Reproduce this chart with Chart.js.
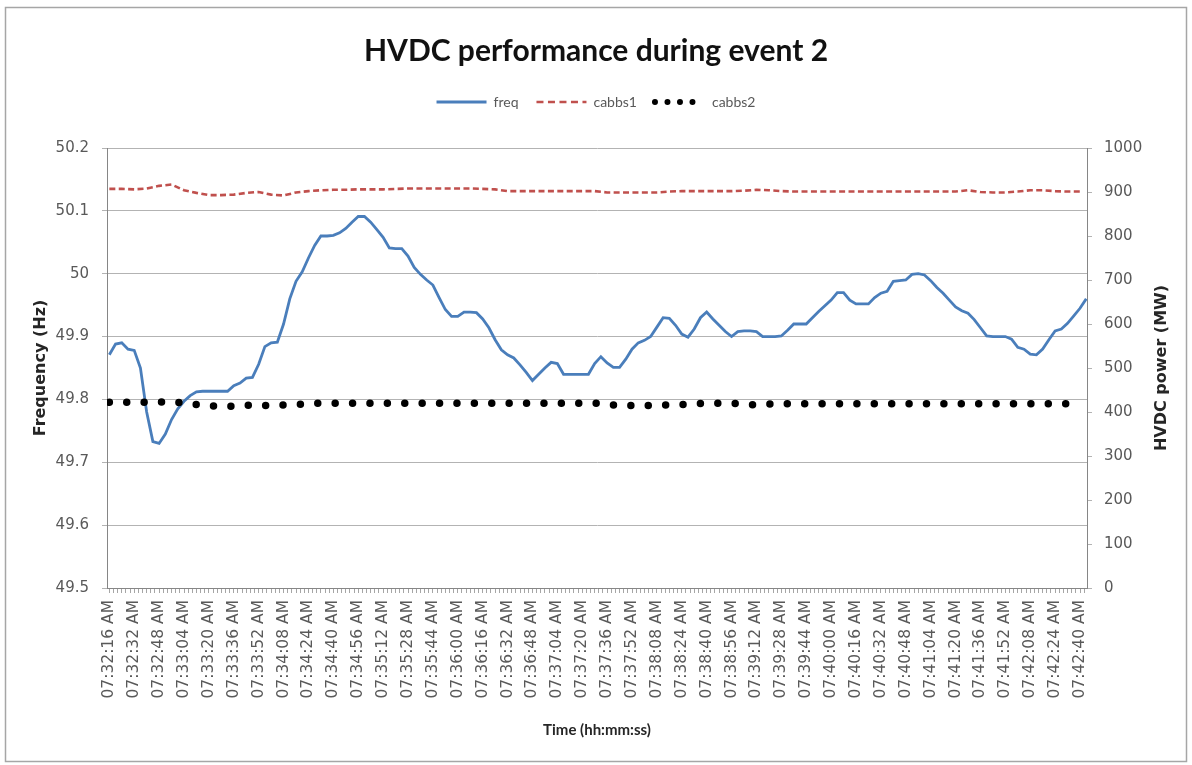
<!DOCTYPE html>
<html>
<head>
<meta charset="utf-8">
<title>HVDC performance during event 2</title>
<script src="https://cdn.jsdelivr.net/npm/chart.js@4.4.1/dist/chart.umd.min.js"></script>
<style>
  html, body { margin: 0; padding: 0; background: #fff; }
  #wrap { width: 1192px; height: 765px; }
</style>
</head>
<body>
<div id="wrap"><canvas id="hvdcChart" width="1192" height="765"></canvas></div>
<script>
// labelled ticks on the time axis, one every 16 s
const timeLabels = [
    '07:32:16 AM', '07:32:32 AM', '07:32:48 AM', '07:33:04 AM', '07:33:20 AM',
    '07:33:36 AM', '07:33:52 AM', '07:34:08 AM', '07:34:24 AM', '07:34:40 AM',
    '07:34:56 AM', '07:35:12 AM', '07:35:28 AM', '07:35:44 AM', '07:36:00 AM',
    '07:36:16 AM', '07:36:32 AM', '07:36:48 AM', '07:37:04 AM', '07:37:20 AM',
    '07:37:36 AM', '07:37:52 AM', '07:38:08 AM', '07:38:24 AM', '07:38:40 AM',
    '07:38:56 AM', '07:39:12 AM', '07:39:28 AM', '07:39:44 AM', '07:40:00 AM',
    '07:40:16 AM', '07:40:32 AM', '07:40:48 AM', '07:41:04 AM', '07:41:20 AM',
    '07:41:36 AM', '07:41:52 AM', '07:42:08 AM', '07:42:24 AM', '07:42:40 AM'
];
const labelStep = 16;   // seconds between labelled ticks
const minorPerLabel = 6; // small tick marks per label interval
const freqStep = 4;     // seconds between freq samples
const powerStep = 8;    // seconds between HVDC power samples

// frequency (Hz), every 4 s from 07:32:16
const freq = [
    49.871, 49.888, 49.890, 49.880, 49.878, 49.850, 49.780, 49.733, 49.730, 49.745,
    49.768, 49.785, 49.797, 49.806, 49.812, 49.813, 49.813, 49.813, 49.813, 49.813,
    49.822, 49.826, 49.834, 49.835, 49.856, 49.884, 49.890, 49.891, 49.920, 49.960,
    49.988, 50.003, 50.025, 50.045, 50.060, 50.060, 50.061, 50.065, 50.072, 50.082,
    50.091, 50.091, 50.082, 50.070, 50.058, 50.041, 50.040, 50.040, 50.028, 50.010,
    49.999, 49.990, 49.982, 49.962, 49.943, 49.932, 49.932, 49.939, 49.939, 49.938,
    49.928, 49.914, 49.895, 49.879, 49.871, 49.866, 49.855, 49.843, 49.830, 49.840,
    49.850, 49.859, 49.857, 49.840, 49.840, 49.840, 49.840, 49.840, 49.857, 49.868,
    49.858, 49.851, 49.851, 49.864, 49.880, 49.890, 49.894, 49.900, 49.915, 49.930,
    49.929, 49.918, 49.904, 49.899, 49.912, 49.930, 49.939, 49.928, 49.918, 49.908,
    49.900, 49.908, 49.909, 49.909, 49.908, 49.900, 49.900, 49.900, 49.901, 49.910,
    49.920, 49.920, 49.920, 49.930, 49.940, 49.949, 49.958, 49.970, 49.970, 49.958,
    49.952, 49.952, 49.952, 49.962, 49.969, 49.972, 49.988, 49.989, 49.990, 49.999,
    50.000, 49.998, 49.989, 49.978, 49.969, 49.958, 49.947, 49.941, 49.937, 49.927,
    49.914, 49.901, 49.900, 49.900, 49.900, 49.896, 49.883, 49.880, 49.872, 49.871,
    49.880, 49.895, 49.909, 49.912, 49.921, 49.933, 49.945, 49.960
];

// HVDC power (MW), every 8 s from 07:32:16
const cabbs1 = [
    907, 907, 906, 908, 914, 917, 904, 898, 893, 893,
    894, 898, 900, 894, 892, 899, 902, 904, 905, 905,
    906, 906, 906, 907, 908, 908, 908, 908, 908, 908,
    907, 906, 902, 902, 902, 902, 902, 902, 902, 902,
    899, 899, 899, 899, 899, 901, 902, 902, 902, 902,
    902, 903, 905, 904, 902, 901, 901, 901, 901, 901,
    901, 901, 901, 901, 901, 901, 901, 901, 901, 904,
    900, 899, 899, 901, 904, 904, 902, 901, 901
];
const cabbs2 = [
    422, 422, 422, 422, 423, 422, 421, 417, 414, 413,
    413, 415, 416, 414, 416, 417, 419, 420, 420, 420,
    420, 420, 420, 420, 420, 420, 420, 420, 420, 420,
    420, 420, 420, 420, 420, 420, 420, 420, 420, 420,
    417, 415, 415, 415, 415, 416, 417, 419, 420, 420,
    420, 417, 416, 418, 419, 419, 419, 419, 419, 419,
    419, 419, 419, 419, 419, 419, 419, 419, 419, 419,
    419, 419, 419, 419, 419, 419, 419, 419, 419
];

const theme = {
    freq: '#4A7EBB',
    cabbs1: '#C0504D',
    cabbs2: '#000000',
    text: '#595959',
    title: '#262626',
    grid: '#b3b3b3',
    axis: '#868686',
};

Chart.defaults.font.family = "'DejaVu Sans', sans-serif";

const toPoints = (values, step) => values.map((v, i) => ({ x: i * step, y: v }));

// white page with the grey frame round the chart
const chartFrame = {
    id: 'chartFrame',
    beforeDraw(chart) {
        const { ctx, width, height } = chart;
        ctx.save();
        ctx.fillStyle = '#ffffff';
        ctx.fillRect(0, 0, width, height);
        ctx.strokeStyle = '#a6a6a6';
        ctx.lineWidth = 1.5;
        ctx.strokeRect(5.5, 7.5, width - 11, height - 11);
        ctx.restore();
    }
};

// empty box between legend and plot
const gapBelowLegend = {
    id: 'gapBelowLegend',
    beforeInit(chart) {
        Chart.layouts.addBox(chart, {
            position: 'top',
            weight: 0,
            fullSize: true,
            options: {},
            top: 0, left: 0, right: 0, bottom: 0, width: 0, height: 0,
            isHorizontal() { return true; },
            update(maxWidth) { this.width = maxWidth; this.height = 29; },
            draw() {}
        });
    }
};

// secondary axis title, reading bottom to top like the left one
const rightAxisTitle = {
    id: 'rightAxisTitle',
    afterDraw(chart) {
        const { ctx, chartArea } = chart;
        const axis = chart.scales.y1;
        ctx.save();
        ctx.translate(axis.right - 22, (chartArea.top + chartArea.bottom) / 2);
        ctx.rotate(-Math.PI / 2);
        ctx.fillStyle = theme.title;
        ctx.font = "bold 16px 'DejaVu Sans'";
        ctx.textAlign = 'center';
        ctx.textBaseline = 'middle';
        ctx.fillText('HVDC power (MW)', 0, 0);
        ctx.restore();
    }
};

const ctx = document.getElementById('hvdcChart').getContext('2d');
new Chart(ctx, {
    type: 'line',
    data: {
        datasets: [{
            label: 'freq',
            data: toPoints(freq, freqStep),
            yAxisID: 'y',
            borderColor: theme.freq,
            backgroundColor: theme.freq,
            borderWidth: 2.8,
            pointRadius: 0,
            order: 3,
        }, {
            label: 'cabbs1',
            data: toPoints(cabbs1, powerStep),
            yAxisID: 'y1',
            borderColor: theme.cabbs1,
            backgroundColor: theme.cabbs1,
            borderWidth: 2.6,
            borderDash: [6, 3.4],
            pointRadius: 0,
            order: 2,
        }, {
            label: 'cabbs2',
            data: toPoints(cabbs2, powerStep),
            yAxisID: 'y1',
            borderColor: theme.cabbs2,
            backgroundColor: theme.cabbs2,
            borderWidth: 7.5,
            borderDash: [0, 17.4],
            borderCapStyle: 'round',
            pointRadius: 0,
            order: 1,
        }]
    },
    options: {
        responsive: false,
        animation: false,
        layout: { padding: { top: 0, left: 8, right: 8, bottom: 10 } },
        plugins: {
            title: {
                display: true,
                text: 'HVDC performance during event 2',
                color: '#111111',
                font: { family: 'Lato', size: 30, weight: 'bold' },
                padding: { top: 33, bottom: 8 }
            },
            legend: {
                position: 'top',
                labels: {
                    usePointStyle: true,
                    pointStyle: 'line',
                    pointStyleWidth: 50,
                    padding: 18,
                    color: theme.text,
                    font: { family: 'Lato', size: 14 },
                    sort: (a, b) => a.datasetIndex - b.datasetIndex,
                    generateLabels(chart) {
                        const items = Chart.defaults.plugins.legend.labels.generateLabels(chart);
                        items.forEach(item => {
                            if (item.datasetIndex === 0) { item.lineWidth = 3; }
                            if (item.datasetIndex === 1) { item.lineDash = [7, 4.5]; }
                            if (item.datasetIndex === 2) {
                                item.lineDash = [0, 12.5];
                                item.lineWidth = 6;
                                item.lineCap = 'round';
                            }
                        });
                        return items;
                    }
                }
            },
            tooltip: { enabled: false }
        },
        scales: {
            x: {
                type: 'linear',
                min: -1.5,
                max: 628.5,
                afterBuildTicks(axis) {
                    const step = labelStep / minorPerLabel;
                    const ticks = [];
                    for (let k = 0; k * step <= axis.max; k++) {
                        ticks.push({ value: k * step });
                    }
                    axis.ticks = ticks;
                },
                afterFit(axis) { axis.height = 167; },
                ticks: {
                    autoSkip: false,
                    minRotation: 90,
                    maxRotation: 90,
                    padding: 7,
                    color: theme.text,
                    font: { size: 15.5 },
                    callback: (value, index) => index % minorPerLabel === 0 ? timeLabels[index / minorPerLabel] : ''
                },
                grid: { drawOnChartArea: false, tickLength: 5, color: '#a6a6a6' },
                border: { color: theme.axis },
                title: {
                    display: true,
                    text: 'Time (hh:mm:ss)',
                    color: theme.title,
                    font: { family: 'Lato', size: 15, weight: 'bold' },
                    padding: { top: 0, bottom: 16 }
                }
            },
            y: {
                position: 'left',
                min: 49.5,
                max: 50.2,
                afterFit(axis) { axis.width = 99; },
                ticks: {
                    stepSize: 0.1,
                    padding: 13,
                    color: theme.text,
                    font: { size: 15 },
                    callback: (v) => String(+v.toFixed(1))
                },
                grid: { color: theme.grid, tickLength: 5 },
                border: { color: theme.axis },
                title: {
                    display: true,
                    text: 'Frequency (Hz)',
                    color: theme.title,
                    font: { size: 16, weight: 'bold' },
                    padding: { top: 23, bottom: 0 }
                }
            },
            y1: {
                position: 'right',
                min: 0,
                max: 1000,
                afterFit(axis) { axis.width = 97; },
                ticks: {
                    stepSize: 100,
                    padding: 12,
                    color: theme.text,
                    font: { size: 15 },
                    callback: (v) => String(v)
                },
                grid: { drawOnChartArea: false, tickLength: 5, color: theme.grid },
                border: { color: theme.axis }
            }
        }
    },
    plugins: [chartFrame, gapBelowLegend, rightAxisTitle]
});
</script>
</body>
</html>
